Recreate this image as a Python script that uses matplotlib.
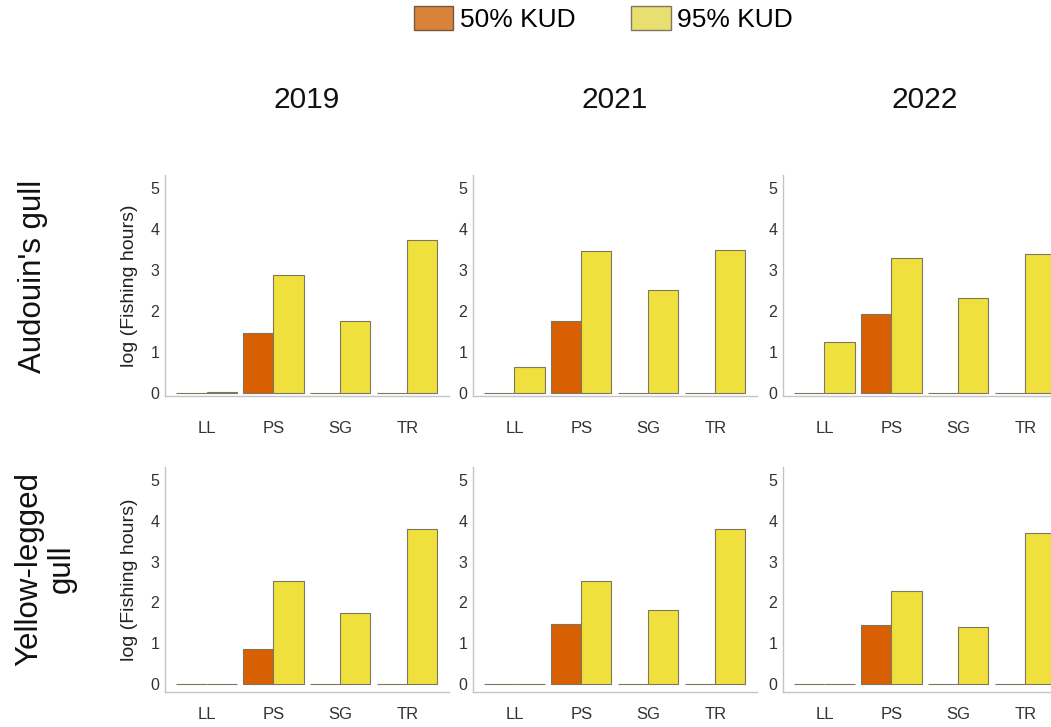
import numpy as np
import matplotlib
matplotlib.use("Agg")
import matplotlib.pyplot as plt
from matplotlib.patches import Patch

plt.rcParams['font.family'] = ['Liberation Sans', 'DejaVu Sans']

# fishing gear categories and panel layout
gears = ["LL", "PS", "SG", "TR"]
years = ["2019", "2021", "2022"]
species = ["Audouin's gull", "Yellow-legged\ngull"]

# log(fishing hours) inside each kernel utilisation distribution
kud50_audouin = [[0.0, 1.47, 0.0, 0.0],
                 [0.0, 1.75, 0.0, 0.0],
                 [0.0, 1.93, 0.0, 0.0]]
kud95_audouin = [[0.04, 2.89, 1.75, 3.74],
                 [0.63, 3.47, 2.52, 3.49],
                 [1.24, 3.30, 2.33, 3.39]]
kud50_yellow = [[0.0, 0.86, 0.0, 0.0],
                [0.0, 1.47, 0.0, 0.0],
                [0.0, 1.45, 0.0, 0.0]]
kud95_yellow = [[0.0, 2.52, 1.75, 3.81],
                [0.0, 2.52, 1.81, 3.81],
                [0.0, 2.28, 1.39, 3.69]]

kud50 = [kud50_audouin, kud50_yellow]
kud95 = [kud95_audouin, kud95_yellow]

c50, c95 = "#D85F02", "#EFE03E"
edge = "#7d7660"

fig = plt.figure(figsize=(10.51, 7.27), dpi=100)

lefts = [0.157, 0.450, 0.745]
# (bottom, height, lower ylim, x label pad) per species row
rows = [(0.4553, 0.304, -0.066, 18), (0.0481, 0.3095, -0.2, 11)]
w = 0.45
x = np.arange(len(gears))

for r in range(2):
    bottom, height, ylo, xpad = rows[r]
    for c in range(3):
        ax = fig.add_axes([lefts[c], bottom, 0.270, height])
        ax.bar(x - w / 2, kud50[r][c], width=w, color=c50,
               edgecolor=edge, linewidth=0.8)
        ax.bar(x + w / 2, kud95[r][c], width=w, color=c95,
               edgecolor=edge, linewidth=0.8)
        ax.set_xlim(-0.62, 3.62)
        ax.set_ylim(ylo, 5.32)
        ax.set_yticks(range(6))
        ax.set_xticks(x)
        ax.set_xticklabels(gears)
        ax.tick_params(length=0, colors="#333333")
        ax.tick_params(axis="y", labelsize=11.5, pad=4)
        ax.tick_params(axis="x", labelsize=12, pad=xpad)
        for s in ["top", "right"]:
            ax.spines[s].set_visible(False)
        for s in ["left", "bottom"]:
            ax.spines[s].set_color("#c4c4c4")
            ax.spines[s].set_linewidth(1.0)
        if c == 0:
            ax.set_ylabel("log (Fishing hours)", fontsize=14, color="#222222",
                          labelpad=9)

for c, yr in enumerate(years):
    fig.text(lefts[c] + 0.135, 0.862, yr, ha="center", va="center",
             fontsize=21.5, color="#111111")

fig.text(0.031, 0.620, species[0], rotation=90, ha="center", va="center",
         fontsize=22.5, color="#111111")
fig.text(0.043, 0.218, species[1], rotation=90, ha="center", va="center",
         multialignment="center", fontsize=22.5, color="#111111",
         linespacing=1.1)

handles = [Patch(facecolor="#D9823A", edgecolor="#6f5a40", label="50% KUD"),
           Patch(facecolor="#E9DE70", edgecolor="#7d7660", label="95% KUD")]
fig.legend(handles=handles, loc="center", bbox_to_anchor=(0.574, 0.974),
           ncol=2, frameon=False, fontsize=19, handlelength=1.5,
           handleheight=1.0, handletextpad=0.25, columnspacing=2.1)

fig.savefig("out.png", dpi=100)
